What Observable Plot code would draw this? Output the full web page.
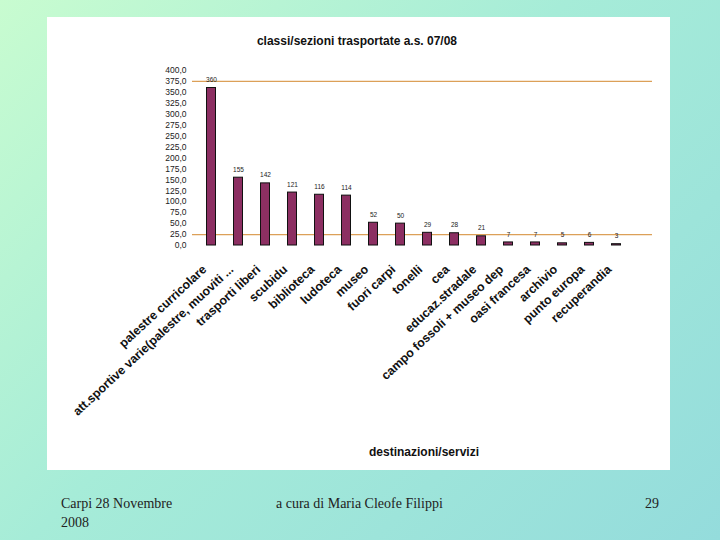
<!DOCTYPE html>
<html>
<head>
<meta charset="utf-8">
<script src="https://cdn.jsdelivr.net/npm/d3@7"></script>
<script src="https://cdn.jsdelivr.net/npm/@observablehq/plot@0.6"></script>
<style>
  html, body { margin: 0; padding: 0; }
  body {
    width: 720px; height: 540px; position: relative; overflow: hidden;
    background: linear-gradient(135deg, #c8fcd0 0%, #a6ecd8 45%, #94dcdc 100%);
    font-family: "Liberation Sans", Arial, sans-serif;
  }
  #panel { position: absolute; left: 47px; top: 17px; width: 623px; height: 453px; background: #fff; }
  #title { position: absolute; left: 0; width: 620px; top: 17px; text-align: center; font-weight: bold; font-size: 12px; color: #111; }
  #chart { position: absolute; left: 0; top: 43px; }
  #xtitle { position: absolute; left: 257px; width: 240px; top: 428px; text-align: center; font-weight: bold; font-size: 12px; color: #111; }
  .foot { position: absolute; font-family: "Liberation Serif", "Times New Roman", serif; font-size: 14px; color: #222; line-height: 19px; }
</style>
</head>
<body>
<div id="panel">
  <div id="title">classi/sezioni trasportate a.s. 07/08</div>
  <div id="chart"></div>
  <div id="xtitle">destinazioni/servizi</div>
</div>
<div class="foot" style="left:61px; top:494px;">Carpi 28 Novembre<br>2008</div>
<div class="foot" style="left:276px; top:494px;">a cura di Maria Cleofe Filippi</div>
<div class="foot" style="left:645px; top:494px;">29</div>
<script>
const categories = [
  "palestre curricolare",
  "att.sportive varie(palestre, muoviti ...",
  "trasporti liberi",
  "scubidu",
  "biblioteca",
  "ludoteca",
  "museo",
  "fuori carpi",
  "tonelli",
  "cea",
  "educaz.stradale",
  "campo fossoli + museo dep",
  "oasi francesa",
  "archivio",
  "punto europa",
  "recuperandia"
];
const values = [360, 155, 142, 121, 116, 114, 52, 50, 29, 28, 21, 7, 7, 5, 6, 3];
const yTicks = [0, 25, 50, 75, 100, 125, 150, 175, 200, 225, 250, 275, 300, 325, 350, 375, 400];
const refLines = [25, 375];

const data = categories.map((c, i) => ({category: c, value: values[i]}));
const fmt = d => d3.format(".1f")(d).replace(".", ",");

const chart = Plot.plot({
  width: 623,
  height: 375,
  marginTop: 10,
  marginBottom: 190,
  marginLeft: 145,
  marginRight: 18,
  style: {fontFamily: "Liberation Sans, Arial, sans-serif", background: "transparent", color: "#222"},
  x: {domain: categories, range: [141.5, 591.5], padding: 2/3, round: false, label: null},
  y: {domain: [0, 400], label: null},
  marks: [
    Plot.axisY({ticks: yTicks, tickFormat: fmt, tickSize: 0, tickPadding: 6, fontSize: 8.5, label: null}),
    Plot.axisX({tickSize: 0, tickRotate: -43, tickPadding: 22, dx: -7, fontSize: 12.3, fontWeight: "bold", label: null, fill: "#111"}),
    Plot.ruleY(refLines, {stroke: "#dca058", strokeWidth: 1.2}),
    Plot.barY(data, {x: "category", y: "value", fill: "#8c2f62", stroke: "#111", strokeWidth: 1}),
    Plot.text(data, {x: "category", y: "value", text: d => String(d.value), dy: -8, fontSize: 6.5, fill: "#222"})
  ]
});
document.getElementById("chart").appendChild(chart);
</script>
</body>
</html>
